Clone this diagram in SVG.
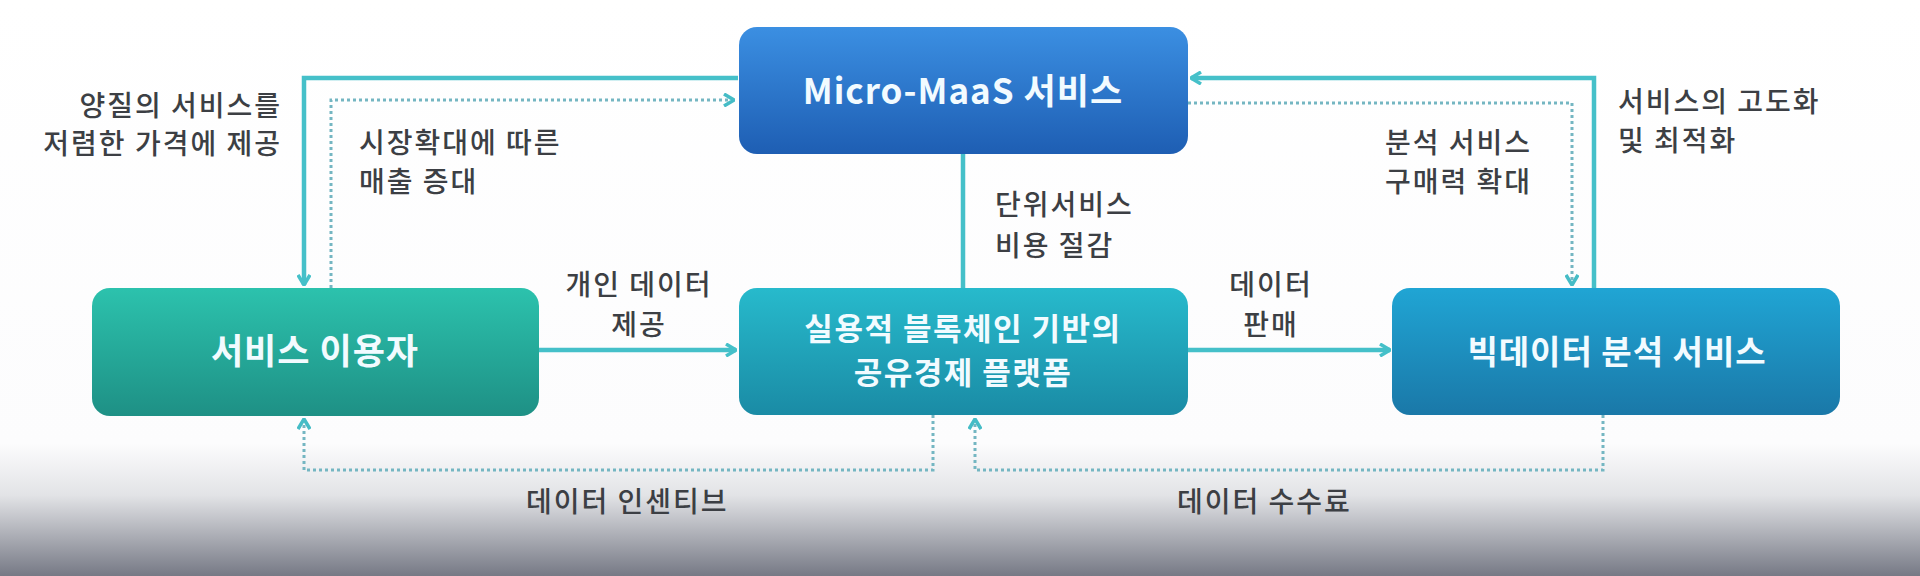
<svg xmlns="http://www.w3.org/2000/svg" width="1920" height="576" viewBox="0 0 1920 576">
  <defs>
    <style>
      .node-text { font-family: "Noto Sans CJK KR", "Noto Sans", sans-serif; font-weight: 700; font-size: 33px; letter-spacing: 1px; fill: #f2fbff; text-anchor: middle; }
      .node-text2 { font-family: "Noto Sans CJK KR", "Noto Sans", sans-serif; font-weight: 700; font-size: 31px; letter-spacing: 1.5px; fill: #f2fbff; text-anchor: middle; }
      .label { font-family: "Noto Sans CJK KR", "Noto Sans", sans-serif; font-weight: 500; font-size: 28px; letter-spacing: 2px; fill: #3c3f44; }
      .solid { fill: none; stroke: #45c0c9; stroke-width: 4.5; }
      .dotted { fill: none; stroke: #74b6c2; stroke-width: 3; stroke-dasharray: 3 3; }
    </style>
    <linearGradient id="bg" x1="0" y1="0" x2="0" y2="1">
      <stop offset="0" stop-color="#ffffff"/>
      <stop offset="0.77" stop-color="#fcfcfd"/>
      <stop offset="0.86" stop-color="#e2e3e6"/>
      <stop offset="1" stop-color="#767985"/>
    </linearGradient>
    <linearGradient id="gMicro" x1="0" y1="0" x2="0" y2="1">
      <stop offset="0" stop-color="#3b8fe2"/>
      <stop offset="1" stop-color="#1e5eb3"/>
    </linearGradient>
    <linearGradient id="gUser" x1="0" y1="0" x2="0" y2="1">
      <stop offset="0" stop-color="#2cc2ad"/>
      <stop offset="1" stop-color="#1e9085"/>
    </linearGradient>
    <linearGradient id="gPlat" x1="0" y1="0" x2="0" y2="1">
      <stop offset="0" stop-color="#27bacc"/>
      <stop offset="1" stop-color="#1a8ba5"/>
    </linearGradient>
    <linearGradient id="gBig" x1="0" y1="0" x2="0" y2="1">
      <stop offset="0" stop-color="#20a5d4"/>
      <stop offset="1" stop-color="#1a78a8"/>
    </linearGradient>
    <marker id="arrowSolid" viewBox="0 0 12 14" markerWidth="12" markerHeight="14" refX="11" refY="7" orient="auto" markerUnits="userSpaceOnUse">
      <path d="M1,1 L11,7 L1,13" fill="none" stroke="#45c0c9" stroke-width="3.5"/>
    </marker>
    <marker id="arrowDot" viewBox="0 0 12 14" markerWidth="12" markerHeight="14" refX="11" refY="7" orient="auto" markerUnits="userSpaceOnUse">
      <path d="M1,1 L11,7 L1,13" fill="none" stroke="#45bcc6" stroke-width="3.5"/>
    </marker>
  </defs>

  <rect x="0" y="0" width="1920" height="576" fill="url(#bg)"/>

  <g id="connectors">
    <path class="solid" d="M738,78 H304 V285" marker-end="url(#arrowSolid)"/>
    <path class="dotted" d="M331,288 V100 H734" marker-end="url(#arrowDot)"/>
    <path class="solid" d="M963,154 V288"/>
    <path class="solid" d="M539,350 H736" marker-end="url(#arrowSolid)"/>
    <path class="solid" d="M1188,350 H1390" marker-end="url(#arrowSolid)"/>
    <path class="solid" d="M1594,288 V78 H1191" marker-end="url(#arrowSolid)"/>
    <path class="dotted" d="M1188,103 H1572 V285" marker-end="url(#arrowDot)"/>
    <path class="dotted" d="M933,415 V470 H304 V419" marker-end="url(#arrowDot)"/>
    <path class="dotted" d="M1603,415 V470 H975 V419" marker-end="url(#arrowDot)"/>
  </g>

  <g id="node-micro">
    <rect x="739" y="27" width="449" height="127" rx="18" fill="url(#gMicro)"/>
    <text class="node-text" x="963" y="104" style="font-size:35px">Micro-MaaS 서비스</text>
  </g>
  <g id="node-user">
    <rect x="92" y="288" width="447" height="128" rx="18" fill="url(#gUser)"/>
    <text class="node-text" x="315" y="364" style="font-size:35px">서비스 이용자</text>
  </g>
  <g id="node-platform">
    <rect x="739" y="288" width="449" height="127" rx="18" fill="url(#gPlat)"/>
    <text class="node-text2" x="963" y="340">실용적 블록체인 기반의</text>
    <text class="node-text2" x="963" y="384">공유경제 플랫폼</text>
  </g>
  <g id="node-bigdata">
    <rect x="1392" y="288" width="448" height="127" rx="18" fill="url(#gBig)"/>
    <text class="node-text" x="1617" y="364">빅데이터 분석 서비스</text>
  </g>

  <g id="labels">
    <text class="label" x="282" y="116" text-anchor="end">양질의 서비스를</text>
    <text class="label" x="282" y="154" text-anchor="end">저렴한 가격에 제공</text>
    <text class="label" x="359" y="153">시장확대에 따른</text>
    <text class="label" x="359" y="192">매출 증대</text>
    <text class="label" x="639" y="295" text-anchor="middle">개인 데이터</text>
    <text class="label" x="639" y="335" text-anchor="middle">제공</text>
    <text class="label" x="995" y="215">단위서비스</text>
    <text class="label" x="995" y="256">비용 절감</text>
    <text class="label" x="1271" y="295" text-anchor="middle">데이터</text>
    <text class="label" x="1271" y="335" text-anchor="middle">판매</text>
    <text class="label" x="1385" y="153">분석 서비스</text>
    <text class="label" x="1385" y="192">구매력 확대</text>
    <text class="label" x="1618" y="112">서비스의 고도화</text>
    <text class="label" x="1618" y="151">및 최적화</text>
    <text class="label" x="526" y="512">데이터 인센티브</text>
    <text class="label" x="1177" y="512">데이터 수수료</text>
  </g>
</svg>
